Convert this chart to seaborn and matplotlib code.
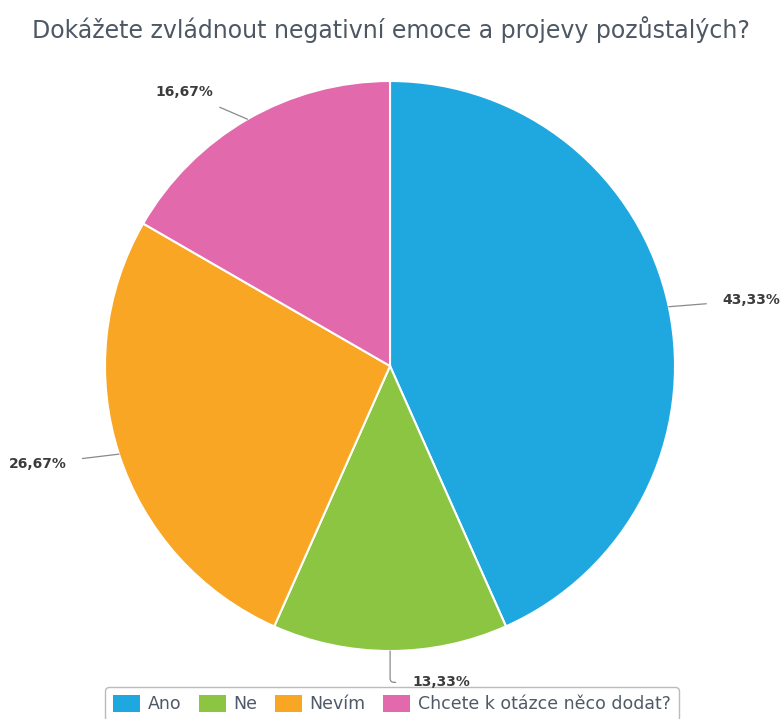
import numpy as np
import matplotlib
matplotlib.use("Agg")
import matplotlib.pyplot as plt
import seaborn as sns
from matplotlib.patches import Patch

title = "Dokážete zvládnout negativní emoce a projevy pozůstalých?"
categories = ["Ano", "Ne", "Nevím", "Chcete k otázce něco dodat?"]
values = [43.33, 13.33, 26.67, 16.67]
colors = ["#1fa8e0", "#8bc541", "#f8a623", "#e269ab"]

sns.set_theme(style="white")
plt.rcParams['font.family'] = ['DejaVu Sans']

W, H = 782, 719
fig = plt.figure(figsize=(W / 100, H / 100), dpi=100)
fig.patch.set_facecolor("white")

a = 1.2
R = 285.0
cx, cy = 390, H - 366
side = 2 * a * R
ax = fig.add_axes([(cx - side / 2) / W, (cy - side / 2) / H, side / W, side / H])

wedges, _ = ax.pie(values, colors=colors, startangle=90, counterclock=False,
                   radius=1.0, wedgeprops=dict(edgecolor="white", linewidth=1.5))
ax.set_xlim(-a, a)
ax.set_ylim(-a, a)
ax.set_aspect("equal")
ax.axis("off")

for w, v in zip(wedges, values):
    ang = np.deg2rad((w.theta1 + w.theta2) / 2)
    c, s = np.cos(ang), np.sin(ang)
    xy = (c, s)
    txt = f"{v:.2f}%".replace(".", ",")
    if abs(c) < 0.2:
        xt = (c * 1.1 + 0.08, s * 1.11)
        ha = "left"
        conn = "angle,angleA=180,angleB=90,rad=4"
        shrinkA = 10
    else:
        xt = (c * 1.14 + np.sign(c) * 0.05, s * 1.11)
        ha = "left" if c > 0 else "right"
        conn = "arc3,rad=0"
        shrinkA = 9
    ax.annotate(txt, xy=xy, xytext=xt, ha=ha, va="center", fontsize=10,
                color="#3c3c3c", fontweight="semibold", zorder=6,
                arrowprops=dict(arrowstyle="-", color="#8a8a8a", lw=0.9,
                                shrinkA=shrinkA, shrinkB=0,
                                connectionstyle=conn))

fig.text(0.5, 1 - 30 / H, title, ha="center", va="center", fontsize=17,
         color="#4d5864")

handles = [Patch(facecolor=c, edgecolor="none") for c in colors]
leg = ax.legend(handles, categories, loc="center", ncol=4,
                bbox_to_anchor=(392 / W, 1 - 704 / H),
                bbox_transform=fig.transFigure, frameon=True,
                fontsize=12.5, handlelength=1.55, handleheight=1.1,
                handletextpad=0.45, columnspacing=1.0, fancybox=True,
                borderpad=0.45, borderaxespad=0)
leg.set_zorder(3)
leg.get_frame().set_edgecolor("#aaaaaa")
leg.get_frame().set_linewidth(1.0)
for t in leg.get_texts():
    t.set_color("#505a66")

fig.savefig("out.png", dpi=100, facecolor="white")
